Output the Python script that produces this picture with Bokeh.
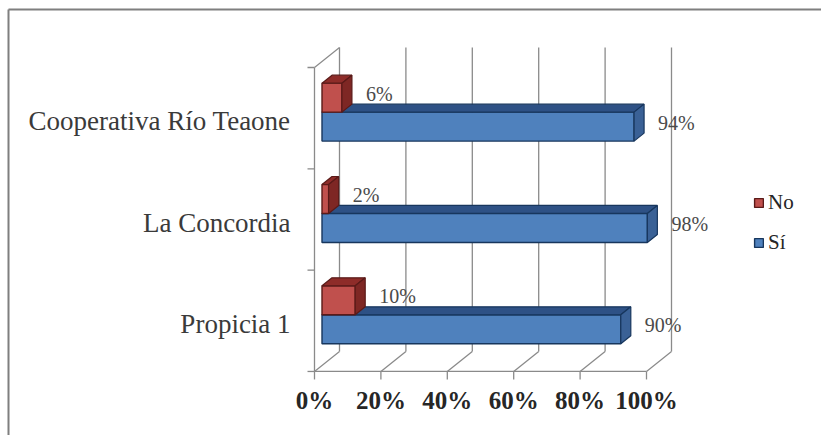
from bokeh.plotting import figure
from bokeh.models import Range1d, Legend, LegendItem, ColumnDataSource
from bokeh.core.properties import value
from bokeh.embed import file_html
from bokeh.resources import INLINE

# ---- data -----------------------------------------------------------------
categories = ["Propicia 1", "La Concordia", "Cooperativa Río Teaone"]
series_names = ["No", "Sí"]
no_values = [10, 2, 6]
si_values = [90, 98, 94]
x_ticks = [0, 20, 40, 60, 80, 100]
x_tick_labels = ["0%", "20%", "40%", "60%", "80%", "100%"]

# ---- canvas / projection ---------------------------------------------------
W, H = 821, 435
PX_PER_PCT = 3.32          # horizontal pixels per percent on the front plane
PX_PER_CAT = 101.33        # vertical pixels per category band
ORIGIN_X = 314             # 0% on the front plane
ORIGIN_Y = 320.3           # centre of the first category (from top)

x_start = -ORIGIN_X / PX_PER_PCT
y_start = -(H - ORIGIN_Y) / PX_PER_CAT

# oblique depth vector of the 3-D box (front plane -> back wall)
DEPTH_X = 25 / PX_PER_PCT
DEPTH_Y = 20 / PX_PER_CAT
BAR_FRONT, BAR_BACK = 0.3, 0.7   # bar depth as a fraction of the box depth
BAR_H = 0.286                    # thickness of one bar in category units
LABEL_GAP = 9.5

SERIF = value("Liberation Serif")


def sx(px):
    return x_start + px / PX_PER_PCT


def sy(py):
    return y_start + (H - py) / PX_PER_CAT


p = figure(width=W, height=H, output_backend="svg", toolbar_location=None,
           x_range=Range1d(x_start, x_start + W / PX_PER_PCT),
           y_range=Range1d(y_start, y_start + H / PX_PER_CAT),
           min_border=0, x_axis_location=None, y_axis_location=None)
p.grid.visible = False
p.outline_line_color = None
p.background_fill_color = "white"
p.border_fill_color = "white"

# ---- chart border (top and left edges) -----------------------------------
p.segment(x0=[sx(8), sx(8)], y0=[sy(9), sy(9)], x1=[sx(W), sx(8)], y1=[sy(9), sy(H)],
          line_color="#7f7f7f", line_width=2)

# ---- 3-D box: walls, floor, ticks ----------------------------------------
lo, hi = -0.5, len(categories) - 0.5
x0, y0, x1, y1 = [], [], [], []


def seg(a, b, c, d):
    x0.append(a); y0.append(b); x1.append(c); y1.append(d)


seg(0, lo, 0, hi)                               # front edge of side wall
seg(0, hi, DEPTH_X, hi + DEPTH_Y)               # top of side wall
for t in x_ticks:
    seg(t + DEPTH_X, lo + DEPTH_Y, t + DEPTH_X, hi + DEPTH_Y)   # back-wall gridlines
    seg(t, lo, t + DEPTH_X, lo + DEPTH_Y)                       # floor lines
    seg(t, lo, t, lo - 8 / PX_PER_CAT)                          # tick marks
seg(0, lo, x_ticks[-1], lo)                     # front edge of floor
for k in range(len(categories) + 1):
    seg(0, lo + k, -7 / PX_PER_PCT, lo + k)     # category ticks
p.segment(x0=x0, y0=y0, x1=x1, y1=y1, line_color="#8a8a8a", line_width=1.3)


# ---- bars ---------------------------------------------------------------
def bar_faces(vals, offset):
    fx0 = BAR_FRONT * DEPTH_X
    fy = BAR_FRONT * DEPTH_Y
    bx0 = BAR_BACK * DEPTH_X
    by = BAR_BACK * DEPTH_Y
    front = dict(left=[], right=[], bottom=[], top=[])
    top_xs, top_ys, side_xs, side_ys = [], [], [], []
    for i, v in enumerate(vals):
        b = i + offset
        t = b + BAR_H
        front["left"].append(fx0)
        front["right"].append(v + fx0)
        front["bottom"].append(b + fy)
        front["top"].append(t + fy)
        top_xs.append([fx0, v + fx0, v + bx0, bx0])
        top_ys.append([t + fy, t + fy, t + by, t + by])
        side_xs.append([v + fx0, v + bx0, v + bx0, v + fx0])
        side_ys.append([b + fy, b + by, t + by, t + fy])
    return front, top_xs, top_ys, side_xs, side_ys


styles = {
    "Sí": dict(front="#4F81BD", top="#2E5185", side="#3A6196", edge="#17365D"),
    "No": dict(front="#C0504D", top="#8E2C29", side="#7E2724", edge="#5A1A18"),
}

renderers = {}
for name, vals, offset in [("Sí", si_values, -BAR_H), ("No", no_values, 0.0)]:
    st = styles[name]
    front, txs, tys, sxs, sys_ = bar_faces(vals, offset)
    renderers[name] = p.quad(source=ColumnDataSource(front), left="left", right="right",
                             bottom="bottom", top="top", fill_color=st["front"],
                             line_color=st["edge"], line_width=1.4)
    p.patches(xs=txs, ys=tys, fill_color=st["top"], line_color=st["edge"], line_width=1.2)
    p.patches(xs=sxs, ys=sys_, fill_color=st["side"], line_color=st["edge"], line_width=1.2)

# ---- value labels ---------------------------------------------------------
mid_depth = (BAR_FRONT + BAR_BACK) / 2
lab_x, lab_y, lab_t = [], [], []
for vals, offset in [(si_values, -BAR_H), (no_values, 0.0)]:
    for i, v in enumerate(vals):
        lab_x.append(v + LABEL_GAP)
        lab_y.append(i + offset + BAR_H / 2 + mid_depth * DEPTH_Y)
        lab_t.append(f"{v}%")
p.text(x=lab_x, y=lab_y, text=lab_t, text_font=SERIF, text_font_size="20px",
       text_color="#4a4a4a", text_align="left", text_baseline="middle")

# ---- category labels ------------------------------------------------------
p.text(x=[-7.2] * len(categories), y=[i - 0.03 for i in range(len(categories))],
       text=categories, text_font=SERIF, text_font_size="27px", text_color="#3a3a3a",
       text_align="right", text_baseline="middle")

# ---- value axis labels ----------------------------------------------------
p.text(x=x_ticks, y=[lo - 0.29] * len(x_ticks), text=x_tick_labels, text_font=SERIF,
       text_font_size="25px", text_font_style="bold", text_color="#262626",
       text_align="center", text_baseline="middle")

# ---- legend ---------------------------------------------------------------
legend = Legend(items=[LegendItem(label="No", renderers=[renderers["No"]]),
                       LegendItem(label="Sí", renderers=[renderers["Sí"]])],
                location=(753, 180), orientation="vertical",
                border_line_color=None, background_fill_alpha=0,
                padding=0, margin=0, glyph_width=11, glyph_height=11,
                label_standoff=4, spacing=15, label_height=23,
                label_text_font="Liberation Serif", label_text_font_size="21px",
                label_text_color="#262626")
p.add_layout(legend)

open("out.html", "w").write(file_html(p, INLINE))
